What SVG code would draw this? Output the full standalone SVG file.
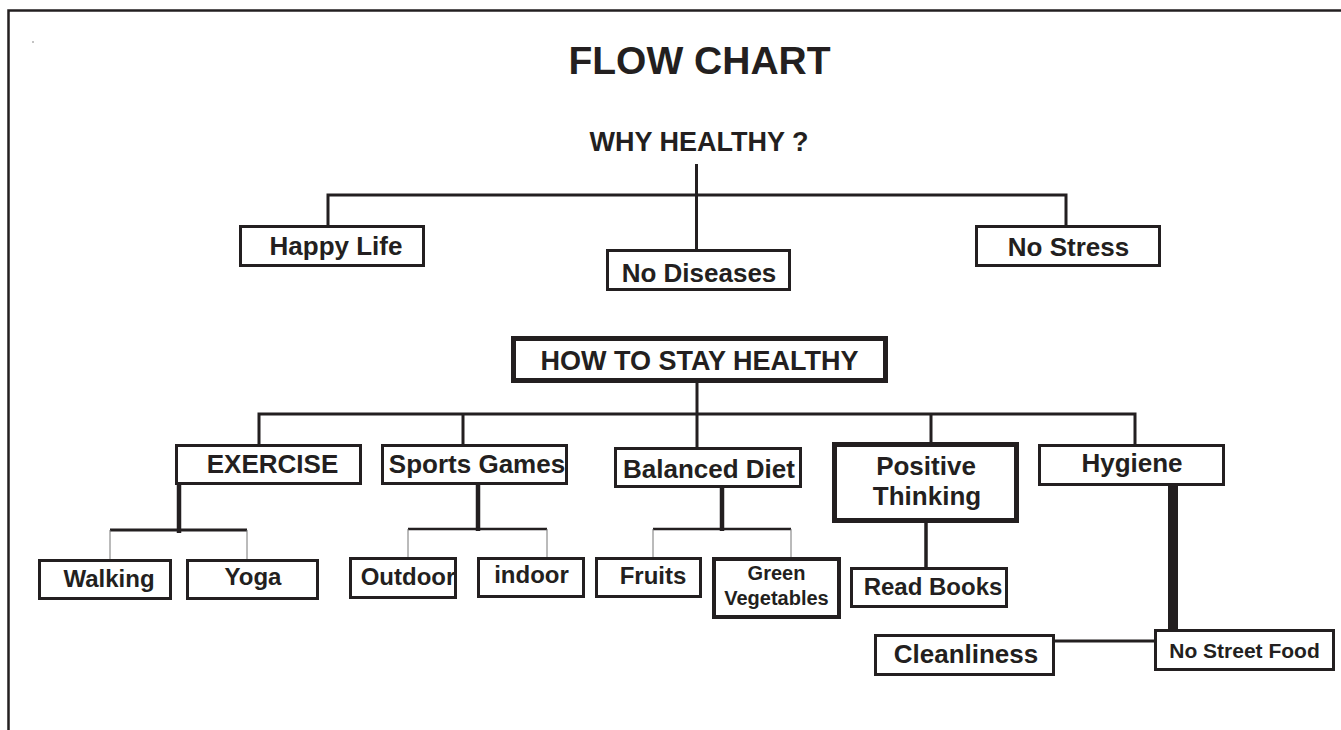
<svg xmlns="http://www.w3.org/2000/svg" width="1341" height="730" viewBox="0 0 1341 730">
<style>
text{font-family:"Liberation Sans",Arial,sans-serif;font-weight:bold;fill:#231f20;text-anchor:middle}
.b{fill:#fff;stroke:#231f20;stroke-width:3}
.b5{fill:#fff;stroke:#231f20;stroke-width:5}
.b4{fill:#fff;stroke:#231f20;stroke-width:4}
.c{stroke:#231f20;stroke-width:3;fill:none}
.t{stroke:#231f20;stroke-width:4.5;fill:none}
.h{stroke:#231f20;stroke-width:2.5;fill:none}
.f{stroke:#777;stroke-width:1;fill:none}
.s26{font-size:26px}
.s24{font-size:24px}
</style>
<rect width="1341" height="730" fill="#fff"/>
<g id="frame">
<path d="M8.5 730 V10.5 H1341" fill="none" stroke="#231f20" stroke-width="2.5"/>
<rect x="32" y="41.5" width="2" height="1" fill="#888"/>
</g>
<g id="title"><text x="699.5" y="74" style="font-size:39px">FLOW CHART</text></g>
<g id="connectors">
<path class="c" d="M696.5 164 V249"/>
<path class="c" d="M328 225 V195 H1066 V225"/>
<path class="c" d="M697 383 V447"/>
<path class="c" d="M259 444 V414 H1135 V444"/>
<path class="c" d="M463 414 V444"/>
<path class="c" d="M931 414 V442"/>
<path class="t" d="M179 485 V533"/>
<path class="c" d="M110 530 H247"/>
<path class="f" d="M110 530 V559 M247 530 V559"/>
<path class="t" d="M478 485 V531"/>
<path class="h" d="M408 529 H547"/>
<path class="f" d="M408 529 V557 M547 529 V557"/>
<path class="t" d="M722 486 V531"/>
<path class="h" d="M653 529 H791"/>
<path class="f" d="M653 529 V557 M791 529 V557"/>
<path class="c" d="M926 523 V567" style="stroke-width:3.5"/>
<path class="c" d="M1173 486 V630" style="stroke-width:10"/>
<path class="c" d="M1055 641 H1154"/>
</g>
<g id="why"><text x="699" y="151" style="font-size:27px">WHY HEALTHY ?</text></g>
<g id="happy-life"><rect class="b" x="240.5" y="226.5" width="183" height="39"/><text class="s26" x="336" y="255">Happy Life</text></g>
<g id="no-diseases"><rect class="b" x="607.5" y="250.5" width="182" height="39"/><text class="s26" x="699" y="282">No Diseases</text></g>
<g id="no-stress"><rect class="b" x="976.5" y="226.5" width="183" height="39"/><text class="s26" x="1068.5" y="256">No Stress</text></g>
<g id="how"><rect class="b5" x="513.5" y="338.5" width="372" height="42"/><text x="699.5" y="370" style="font-size:27px">HOW TO STAY HEALTHY</text></g>
<g id="exercise"><rect class="b" x="176.5" y="445.5" width="184" height="38"/><text class="s26" x="272.5" y="473">EXERCISE</text></g>
<g id="sports-games"><rect class="b" x="382.5" y="445.5" width="184" height="38"/><text class="s26" x="477" y="473">Sports Games</text></g>
<g id="balanced-diet"><rect class="b" x="615.5" y="448.5" width="185" height="38"/><text class="s26" x="709" y="478">Balanced Diet</text></g>
<g id="positive-thinking"><rect class="b5" x="834.5" y="444.5" width="182" height="76"/><text class="s26" x="926" y="475">Positive</text><text class="s26" x="927" y="505">Thinking</text></g>
<g id="hygiene"><rect class="b" x="1039.5" y="445.5" width="184" height="39"/><text class="s26" x="1132" y="472">Hygiene</text></g>
<g id="walking"><rect class="b" x="39.5" y="560.5" width="131" height="38"/><text class="s24" x="109" y="587">Walking</text></g>
<g id="yoga"><rect class="b" x="187.5" y="560.5" width="130" height="38"/><text class="s24" x="253" y="585">Yoga</text></g>
<g id="outdoor"><rect class="b" x="350.5" y="558.5" width="105" height="39"/><text class="s24" x="408" y="585">Outdoor</text></g>
<g id="indoor"><rect class="b" x="478.5" y="558.5" width="105" height="38"/><text class="s24" x="531.5" y="583">indoor</text></g>
<g id="fruits"><rect class="b" x="596.5" y="558.5" width="104" height="38"/><text class="s24" x="653" y="584">Fruits</text></g>
<g id="green-vegetables"><rect class="b4" x="714" y="559" width="125" height="58"/><text x="776.5" y="580" style="font-size:20px">Green</text><text x="776.5" y="605" style="font-size:20px">Vegetables</text></g>
<g id="read-books"><rect class="b" x="851.5" y="568.5" width="155" height="38"/><text class="s24" x="933" y="595">Read Books</text></g>
<g id="no-street-food"><rect class="b" x="1155.5" y="630.5" width="178" height="39"/><text x="1244.5" y="658" style="font-size:21px">No Street Food</text></g>
<g id="cleanliness"><rect class="b" x="875.5" y="635.5" width="178" height="39"/><text class="s26" x="966" y="663">Cleanliness</text></g>
</svg>
